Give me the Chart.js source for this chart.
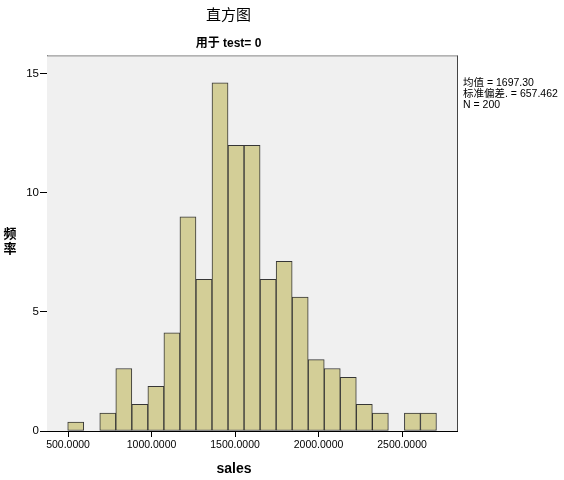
<!DOCTYPE html>
<html>
<head>
<meta charset="utf-8">
<script src="https://cdn.jsdelivr.net/npm/chart.js@4"></script>
<style>
  html, body { margin: 0; padding: 0; background: #fff; }
  #wrap { width: 564px; height: 480px; }
</style>
</head>
<body>
<div id="wrap"><canvas id="chart" width="564" height="480"></canvas></div>
<script>
// histogram bins (centre of each bin, width 96)
const binCenters = [546, 642, 738, 834, 930, 1026, 1122, 1218, 1314, 1410, 1506, 1602,
  1698, 1794, 1890, 1986, 2082, 2178, 2274, 2370, 2466, 2562, 2658];
const freq = [0.375, null, 0.75, 2.625, 1.125, 1.875, 4.125, 9.0, 6.375, 14.625, 12.0, 12.0,
  6.375, 7.125, 5.625, 3.0, 2.625, 2.25, 1.125, 0.75, null, 0.75, 0.75];
const xTicks = [500, 1000, 1500, 2000, 2500];
const yTicks = [0, 5, 10, 15];
const statLines = ['均值 = 1697.30', '标准偏差. = 657.462', 'N = 200'];
const xTitle = 'sales';
const yTitle = ['频', '率'];

const sansFont = '"Liberation Sans", Arial, "Noto Sans CJK SC", sans-serif';

const framePlugin = {
  id: 'frame',
  beforeDatasetsDraw(chart) {
    const { ctx, chartArea: a } = chart;
    ctx.save();
    ctx.fillStyle = '#f0f0f0';
    ctx.fillRect(a.left, a.top, a.right - a.left, a.bottom - a.top);
    ctx.restore();
  },
  afterDraw(chart) {
    const { ctx, chartArea: a } = chart;
    ctx.save();
    // top and right edges of the plot box
    ctx.lineWidth = 1;
    ctx.strokeStyle = '#888';
    ctx.beginPath();
    ctx.moveTo(a.left, a.top + 0.5);
    ctx.lineTo(a.right, a.top + 0.5);
    ctx.stroke();
    ctx.strokeStyle = '#444';
    ctx.beginPath();
    ctx.moveTo(a.right + 0.5, a.top);
    ctx.lineTo(a.right + 0.5, a.bottom);
    ctx.stroke();

    // stats box text
    ctx.fillStyle = '#000';
    ctx.font = '10.5px ' + sansFont;
    ctx.textBaseline = 'middle';
    ctx.textAlign = 'left';
    statLines.forEach((t, i) => ctx.fillText(t, 463, 83 + i * 11));

    // y title, characters stacked
    ctx.font = 'bold 13px "Noto Sans CJK SC", sans-serif';
    ctx.textAlign = 'center';
    yTitle.forEach((t, i) => ctx.fillText(t, 10, 233 + i * 15));

    // x title
    ctx.font = 'bold 14px ' + sansFont;
    ctx.fillText(xTitle, 234, 469);
    ctx.restore();
  }
};

const ctx = document.getElementById('chart').getContext('2d');
const histChart = new Chart(ctx, {
  type: 'bar',
  data: {
    datasets: [{
      label: '频率',
      data: binCenters.map((x, i) => ({ x: x, y: freq[i] })),
      backgroundColor: '#d3ce97',
      borderColor: '#363636',
      borderWidth: 1,
      borderSkipped: false,
      barPercentage: 1,
      categoryPercentage: 1
    }]
  },
  options: {
    responsive: false,
    animation: false,
    layout: { padding: { left: 0, right: 107, top: 0, bottom: 0 } },
    plugins: {
      legend: { display: false },
      tooltip: { enabled: false },
      title: {
        display: true,
        text: '直方图',
        color: '#000',
        font: { family: '"Noto Sans CJK SC", sans-serif', size: 15, weight: 'normal' },
        padding: { top: 5, bottom: 3 }
      },
      subtitle: {
        display: true,
        text: '用于 test= 0',
        color: '#000',
        font: { family: sansFont, size: 12, weight: 'bold' },
        padding: { top: 10, bottom: 5 }
      }
    },
    scales: {
      x: {
        type: 'linear',
        offset: false,
        min: 374,
        max: 2829,
        afterBuildTicks: s => { s.ticks = xTicks.map(v => ({ value: v })); },
        afterFit: s => { s.height = 49; },
        grid: { offset: false, drawOnChartArea: false, drawTicks: true, tickLength: 6, color: '#000' },
        border: { display: true, color: '#000', width: 1 },
        ticks: {
          color: '#000',
          padding: 2,
          maxRotation: 0,
          font: { family: sansFont, size: 10.5 },
          callback: v => v.toFixed(4)
        }
      },
      y: {
        min: 0,
        max: 15.78,
        afterBuildTicks: s => { s.ticks = yTicks.map(v => ({ value: v })); },
        afterFit: s => { s.width = 47; },
        grid: { drawOnChartArea: false, drawTicks: true, tickLength: 7, color: '#000' },
        border: { display: true, color: '#000', width: 1 },
        ticks: {
          color: '#000',
          padding: 1,
          font: { family: sansFont, size: 11.5 }
        }
      }
    }
  },
  plugins: [framePlugin]
});
</script>
</body>
</html>
